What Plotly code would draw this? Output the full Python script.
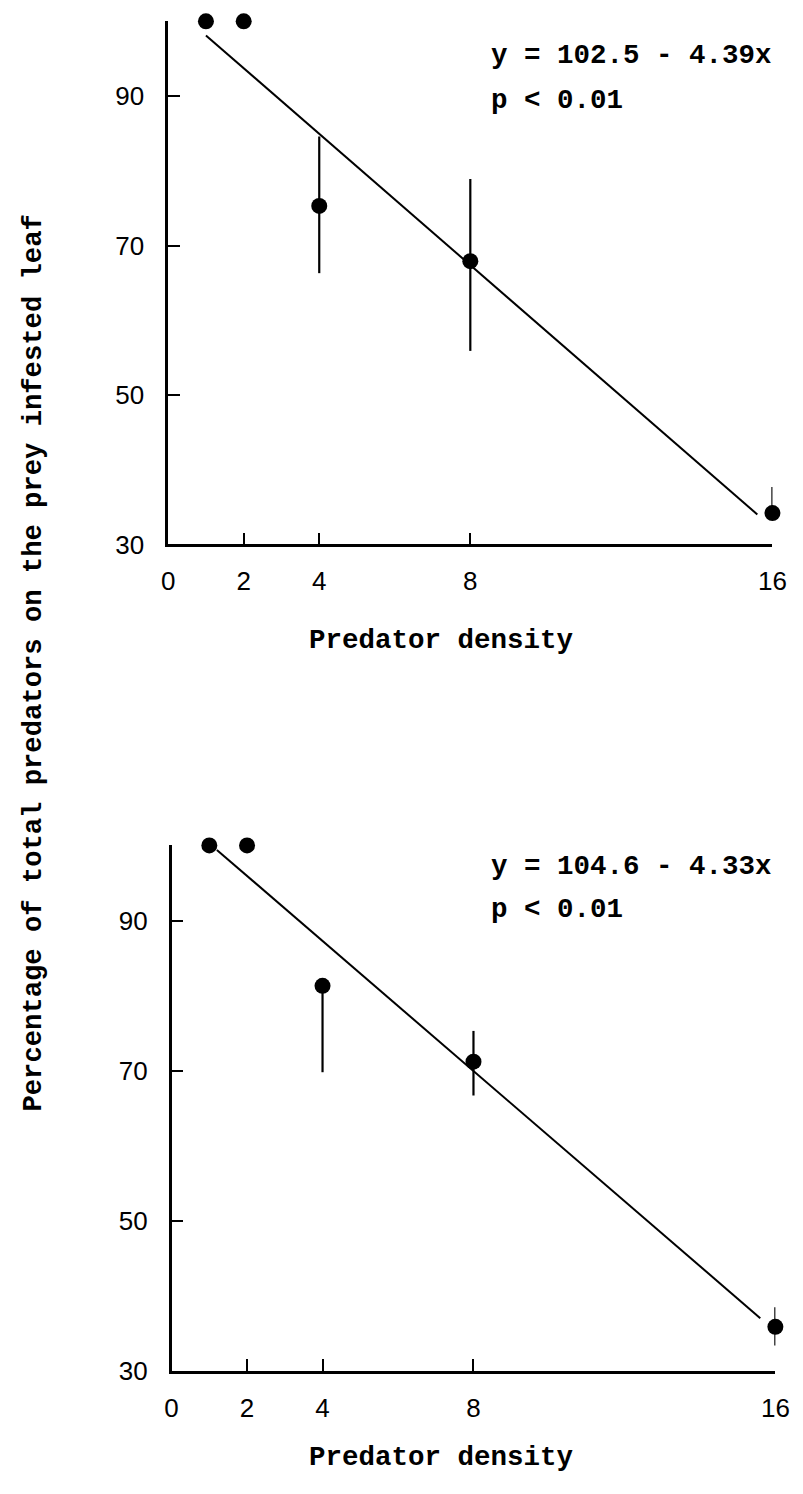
import plotly.graph_objects as go

# Predator density levels and mean percentage on the prey infested leaf
density = [1, 2, 4, 8, 16]

pct_a = [100, 100, 75.3, 67.9, 34.2]
err_a_plus = [0, 0, 9.3, 11.0, 3.5]
err_a_minus = [0, 0, 9.0, 12.0, 0]

pct_b = [100, 100, 81.3, 71.2, 35.9]
err_b_plus = [0, 0, 0, 4.1, 2.6]
err_b_minus = [0, 0, 11.5, 4.5, 2.5]

# Fitted regressions: intercept, slope, and span of the drawn line
fit_a = (102.5, -4.39, 1.0, 15.6)
fit_b = (104.6, -4.33, 1.2, 15.6)

x_ticks = [0, 2, 4, 8, 16]
y_ticks = [30, 50, 70, 90]

MONO = "Liberation Mono, Courier New, monospace"
SANS = "Liberation Sans, Arial, sans-serif"

fig = go.Figure()


def add_panel(fig, xref, yref, pct, ep, em, fit):
    a, b, x0, x1 = fit
    fig.add_trace(go.Scatter(
        x=[x0, x1], y=[a + b * x0, a + b * x1],
        mode="lines", line=dict(color="black", width=2),
        xaxis=xref, yaxis=yref, showlegend=False, hoverinfo="skip",
    ))
    fig.add_trace(go.Scatter(
        x=density, y=pct, mode="markers",
        marker=dict(color="black", size=16),
        error_y=dict(type="data", symmetric=False, array=ep, arrayminus=em,
                     color="black", thickness=2.2, width=0),
        xaxis=xref, yaxis=yref, showlegend=False, cliponaxis=False,
    ))


add_panel(fig, "x", "y", pct_a, err_a_plus, err_a_minus, fit_a)
add_panel(fig, "x2", "y2", pct_b, err_b_plus, err_b_minus, fit_b)

W, H = 803, 1494

axis_common = dict(
    showgrid=False, zeroline=False, showline=True, linecolor="black",
    linewidth=2.5, ticks="inside", ticklen=12, tickwidth=2.2,
    tickcolor="black", tickfont=dict(family=SANS, size=26, color="black"),
)

fig.update_layout(
    width=W, height=H,
    margin=dict(l=0, r=0, t=0, b=0),
    paper_bgcolor="white", plot_bgcolor="white",
    xaxis=dict(domain=[165.5 / W, 786 / W], range=[0, 16], anchor="y",
               tickvals=x_ticks, ticklabelstandoff=12, **axis_common),
    yaxis=dict(domain=[1 - 550 / H, 1 - 21.5 / H], range=[30, 100], anchor="x",
               tickvals=y_ticks, ticklabelstandoff=16, **axis_common),
    xaxis2=dict(domain=[169 / W, 789 / W], range=[0, 16], anchor="y2",
                tickvals=x_ticks, ticklabelstandoff=12, **axis_common),
    yaxis2=dict(domain=[1 - 1385 / H, 1 - 854 / H], range=[30, 100], anchor="x2",
                tickvals=y_ticks, ticklabelstandoff=16, **axis_common),
)

text_font = dict(family=MONO, size=27.5, color="black", weight="bold")

annotations = [
    # x-axis titles
    dict(text="Predator density", x=446 / W, y=1 - 647 / H),
    dict(text="Predator density", x=446 / W, y=1 - 1472 / H),
    # regression statistics
    dict(text="y = 102.5 - 4.39x", x=495 / W, y=1 - 56 / H, xanchor="left"),
    dict(text="p < 0.01", x=495 / W, y=1 - 102 / H, xanchor="left"),
    dict(text="y = 104.6 - 4.33x", x=495 / W, y=1 - 875 / H, xanchor="left"),
    dict(text="p < 0.01", x=495 / W, y=1 - 919 / H, xanchor="left"),
    # shared y-axis title
    dict(text="Percentage of total predators on the prey infested leaf",
         x=27 / W, y=1 - 670 / H, textangle=-90,
         font=dict(family=MONO, size=27.2, color="black", weight="bold")),
]
for ann in annotations:
    ann.setdefault("xanchor", "center")
    ann.setdefault("yanchor", "middle")
    ann.setdefault("font", text_font)
    fig.add_annotation(xref="paper", yref="paper", showarrow=False, **ann)

fig.write_html("out.html")
